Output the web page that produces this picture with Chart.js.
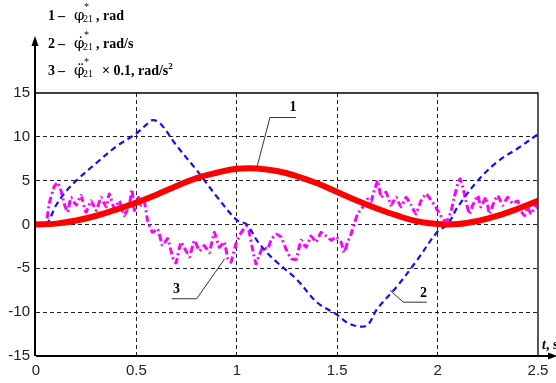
<!DOCTYPE html>
<html>
<head>
<meta charset="utf-8">
<script src="https://cdn.jsdelivr.net/npm/chart.js@4/dist/chart.umd.min.js"></script>
<style>
  body { margin: 0; background: #fff; }
  #wrap { position: relative; width: 556px; height: 383px; overflow: hidden; }
  canvas { position: absolute; left: 0; top: 0; }
  .leg { position: absolute; left: 48px; font: bold 14px "Liberation Serif", serif; color: #000; white-space: nowrap; }
  .leg span { display: inline-block; }
  .n { width: 10px; }
  .d { width: 16px; }
  .phi { width: 9px; font: normal 15px "DejaVu Serif", serif; }
  .ix { position: relative; width: 13px; height: 1em; }
  .ix .up { position: absolute; left: 1px; top: -5px; font: normal 10px "Liberation Serif", serif; }
  .ix .dn { position: absolute; left: 0px; top: 7px; font: normal 10px "Liberation Serif", serif; }
  #tlab { position: absolute; left: 542px; top: 337px; font: bold 14px "Liberation Serif", serif; white-space: nowrap; }
</style>
</head>
<body>
<div id="wrap">
  <canvas id="chart" width="556" height="383"></canvas>
  <div class="leg" style="top:6px"><span class="n">1</span><span class="d">&ndash;</span><span class="phi">&phi;</span><span class="ix"><span class="up">*</span><span class="dn">21</span></span>, rad</div>
  <div class="leg" style="top:34px"><span class="n">2</span><span class="d">&ndash;</span><span class="phi">&phi;&#775;</span><span class="ix"><span class="up">*</span><span class="dn">21</span></span>, rad/s</div>
  <div class="leg" style="top:61px"><span class="n">3</span><span class="d">&ndash;</span><span class="phi">&phi;&#776;</span><span class="ix"><span class="up">*</span><span class="dn">21</span></span><span style="width:6px"></span>&times; 0.1, rad/s<sup style="font-size:9px">2</sup></div>
  <div id="tlab"><i>t</i>, s</div>
</div>
<script>
// time axis and tick values
const X_TICKS = [0, 0.5, 1, 1.5, 2, 2.5];
const Y_TICKS = [-15, -10, -5, 0, 5, 10, 15];

// curve 1: angle, rad
const T_PHI = [0, 0.1, 0.2, 0.3, 0.4, 0.5, 0.6, 0.7, 0.8, 0.9, 1.0, 1.1, 1.2, 1.3, 1.4, 1.5, 1.6, 1.7, 1.8, 1.9, 2.0, 2.1, 2.2, 2.3, 2.4, 2.5];
const PHI = [0, 0.1, 0.45, 1.0, 1.7, 2.5, 3.4, 4.4, 5.3, 5.9, 6.35, 6.4, 6.1, 5.5, 4.7, 3.7, 2.7, 1.8, 1.0, 0.35, 0.05, 0.05, 0.4, 1.0, 1.8, 2.7];

// curve 2: angular velocity, rad/s
const T_DPHI = [0, 0.05, 0.1, 0.15, 0.2, 0.3, 0.4, 0.5, 0.55, 0.58, 0.62, 0.7, 0.8, 0.9, 1.0, 1.05, 1.1, 1.15, 1.2, 1.3, 1.4, 1.5, 1.55, 1.6, 1.65, 1.7, 1.8, 1.9, 2.0, 2.05, 2.1, 2.2, 2.3, 2.4, 2.5];
const DPHI = [0, 0, 2.2, 3.8, 5.0, 7.0, 8.9, 10.4, 11.4, 11.9, 11.5, 9.0, 6.2, 3.2, 0.5, 0, -1.8, -3.2, -4.3, -6.3, -8.9, -10.3, -11.2, -11.6, -11.5, -9.6, -7.0, -4.0, -0.8, 0, 2.0, 5.0, 7.2, 8.7, 10.3];

// curve 3: angular acceleration x 0.1, rad/s^2 (noisy)
const T_DDPHI = [0, 0.05, 0.066, 0.09, 0.108, 0.124, 0.14, 0.158, 0.174, 0.2, 0.224, 0.249, 0.274, 0.3, 0.324, 0.349, 0.365, 0.39, 0.415, 0.44, 0.465, 0.478, 0.49, 0.51, 0.523, 0.54, 0.556, 0.58, 0.606, 0.63, 0.656, 0.68, 0.697, 0.722, 0.747, 0.764, 0.789, 0.813, 0.838, 0.863, 0.888, 0.913, 0.938, 0.955, 0.971, 0.996, 1.02, 1.046, 1.06, 1.08, 1.096, 1.112, 1.13, 1.154, 1.17, 1.195, 1.22, 1.245, 1.27, 1.295, 1.32, 1.345, 1.37, 1.394, 1.42, 1.444, 1.47, 1.494, 1.519, 1.535, 1.552, 1.569, 1.585, 1.602, 1.627, 1.652, 1.668, 1.685, 1.702, 1.718, 1.743, 1.768, 1.793, 1.818, 1.843, 1.868, 1.892, 1.917, 1.942, 1.967, 1.99, 2.01, 2.03, 2.05, 2.067, 2.083, 2.1, 2.112, 2.125, 2.141, 2.158, 2.175, 2.2, 2.216, 2.241, 2.258, 2.283, 2.3, 2.324, 2.349, 2.374, 2.399, 2.415, 2.432, 2.448, 2.465, 2.49, 2.5];
const DDPHI = [0.15, 0.15, 2.4, 4.3, 4.8, 3.9, 2.4, 1.4, 3.1, 2.2, 3.3, 1.4, 2.7, 1.6, 3.1, 2.0, 3.5, 1.8, 2.7, 1.0, 2.2, 4.0, 1.6, 3.1, 2.2, 2.6, 0.4, -0.9, -0.5, -2.4, -1.6, -3.7, -4.4, -2.0, -3.0, -3.7, -1.8, -3.0, -2.4, -3.2, -0.9, -2.6, -2.0, -3.9, -4.3, -2.2, -1.0, -0.2, -0.7, -3.0, -4.5, -3.5, -2.6, -2.8, -1.8, -1.1, -1.4, -2.8, -3.9, -4.0, -1.8, -2.6, -1.3, -2.0, -0.9, -1.3, -1.8, -1.4, -2.0, -3.2, -2.0, -1.1, 0.1, 1.2, 2.0, 2.9, 2.6, 3.9, 5.0, 3.1, 3.7, 2.2, 3.1, 2.0, 3.1, 2.2, 1.2, 2.7, 3.5, 2.8, 2.0, 1.2, 0.5, 0.5, 1.5, 3.1, 4.6, 5.2, 4.3, 2.7, 1.2, 2.2, 3.3, 2.0, 3.1, 1.2, 2.7, 3.3, 2.2, 3.1, 2.4, 2.7, 1.6, 1.0, 2.0, 1.2, 2.2, 1.8];

// numbered callouts: anchor on curve, elbow, end of shelf, label (data units)
const CALLOUTS = [
  { label: "1", pts: [[1.10, 6.5], [1.165, 12.2], [1.295, 12.2]], at: [1.28, 13.4] },
  { label: "3", pts: [[0.94, -3.9], [0.80, -8.47], [0.676, -8.47]], at: [0.70, -7.4] },
  { label: "2", pts: [[1.763, -7.5], [1.829, -8.86], [1.946, -8.86]], at: [1.93, -7.9] }
];

function toPoints(xs, ys) {
  return xs.map((x, i) => ({ x: x, y: ys[i] }));
}

// frame, axis arrows and callouts
const framePlugin = {
  id: "frame",
  afterDatasetsDraw(chart) {
    const ctx = chart.ctx;
    const a = chart.chartArea;
    const xs = chart.scales.x, ys = chart.scales.y;
    ctx.save();
    ctx.strokeStyle = "#000";
    ctx.fillStyle = "#000";

    // top and right border
    ctx.lineWidth = 1.3;
    ctx.beginPath();
    ctx.moveTo(a.left, a.top);
    ctx.lineTo(a.right, a.top);
    ctx.lineTo(a.right, a.bottom);
    ctx.stroke();

    // axes with arrows
    ctx.lineWidth = 2;
    ctx.beginPath();
    ctx.moveTo(a.left, a.bottom);
    ctx.lineTo(552, a.bottom);
    ctx.moveTo(a.left - 1, a.bottom);
    ctx.lineTo(a.left - 1, 42);
    ctx.stroke();
    ctx.beginPath();
    ctx.moveTo(557, a.bottom);
    ctx.lineTo(548, a.bottom - 3.5);
    ctx.lineTo(548, a.bottom + 3.5);
    ctx.closePath();
    ctx.fill();
    ctx.beginPath();
    ctx.moveTo(a.left - 1, 36);
    ctx.lineTo(a.left - 4.5, 46);
    ctx.lineTo(a.left + 2.5, 46);
    ctx.closePath();
    ctx.fill();

    // callouts
    ctx.lineWidth = 1;
    ctx.strokeStyle = "#333";
    ctx.font = "bold 14px 'Liberation Serif', serif";
    ctx.textAlign = "center";
    ctx.textBaseline = "middle";
    CALLOUTS.forEach(c => {
      ctx.beginPath();
      c.pts.forEach((p, i) => {
        const px = xs.getPixelForValue(p[0]);
        const py = ys.getPixelForValue(p[1]);
        if (i === 0) ctx.moveTo(px, py); else ctx.lineTo(px, py);
      });
      ctx.stroke();
      ctx.fillText(c.label, xs.getPixelForValue(c.at[0]), ys.getPixelForValue(c.at[1]));
    });
    ctx.restore();
  }
};

const edgeColor = (min, max) => (c) => {
  const v = c.tick ? c.tick.value : null;
  return (v === min || v === max) ? "rgba(0,0,0,0)" : "#222";
};

const tickFont = { family: "'Liberation Sans', Arial, sans-serif", size: 15 };

new Chart(document.getElementById("chart"), {
  type: "line",
  data: {
    datasets: [
      {
        label: "3",
        data: toPoints(T_DDPHI, DDPHI),
        borderColor: "#ff00ff",
        borderWidth: 3,
        borderDash: [7, 3, 2, 3],
        pointRadius: 0,
        tension: 0.1,
        order: 3
      },
      {
        label: "2",
        data: toPoints(T_DPHI, DPHI),
        borderColor: "#1010ff",
        borderWidth: 2.2,
        borderDash: [6, 4],
        pointRadius: 0,
        tension: 0.35,
        order: 2
      },
      {
        label: "1",
        data: toPoints(T_PHI, PHI),
        borderColor: "#ff0000",
        borderWidth: 6,
        pointRadius: 0,
        tension: 0.4,
        order: 1
      }
    ]
  },
  options: {
    responsive: false,
    animation: false,
    layout: { padding: { top: 93, right: 18, left: 0, bottom: 0 } },
    plugins: { legend: { display: false }, tooltip: { enabled: false } },
    scales: {
      x: {
        type: "linear",
        min: 0,
        max: 2.5,
        afterBuildTicks: s => { s.ticks = X_TICKS.map(v => ({ value: v })); },
        afterFit: s => { s.height = 27; },
        ticks: {
          padding: 6,
          color: "#222",
          font: tickFont,
          maxRotation: 0,
          callback: v => String(v)
        },
        grid: { color: edgeColor(0, 2.5), lineWidth: 1, drawTicks: false },
        border: { display: false, dash: [4, 3] }
      },
      y: {
        min: -15,
        max: 15,
        afterBuildTicks: s => { s.ticks = Y_TICKS.map(v => ({ value: v })); },
        afterFit: s => { s.width = 36; },
        ticks: {
          padding: 6,
          color: "#222",
          font: tickFont,
          callback: v => String(v)
        },
        grid: { color: edgeColor(-15, 15), lineWidth: 1, drawTicks: false },
        border: { display: false, dash: [4, 3] }
      }
    }
  },
  plugins: [framePlugin]
});
</script>
</body>
</html>
